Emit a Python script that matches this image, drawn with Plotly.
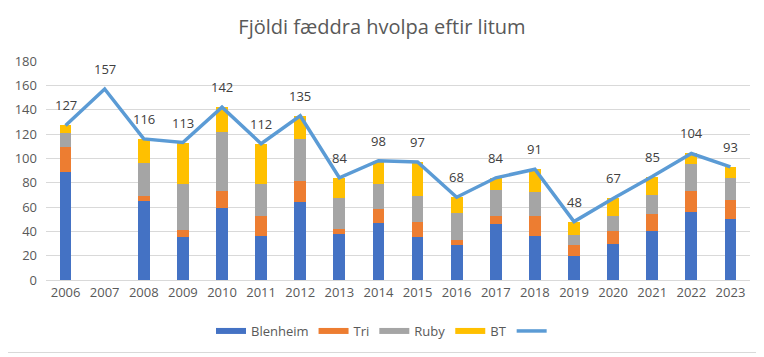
import plotly.graph_objects as go

years = ["2006", "2007", "2008", "2009", "2010", "2011", "2012", "2013", "2014",
         "2015", "2016", "2017", "2018", "2019", "2020", "2021", "2022", "2023"]
blenheim = [89, None, 65, 35, 59, 36, 64, 38, 47, 35, 29, 46, 36, 20, 30, 40, 56, 50]
tri = [20, None, 4, 6, 14, 17, 17, 4, 11, 13, 4, 7, 17, 9, 10, 14, 17, 16]
ruby = [12, None, 27, 38, 49, 26, 35, 25, 21, 21, 22, 21, 19, 8, 13, 16, 22, 18]
bt = [6, None, 20, 34, 20, 33, 19, 17, 19, 28, 13, 10, 19, 11, 14, 15, 9, 9]
total = [127, 157, 116, 113, 142, 112, 135, 84, 98, 97, 68, 84, 91, 48, 67, 85, 104, 93]

font = "Open Sans"
txt = "#595959"

# page has an 8px body margin; figure is sized to fit the remaining window
W, H = 756, 349
L, R, T, B = 38, 14, 53, 77
PW, PH = W - L - R, H - T - B

fig = go.Figure()
series = [("Blenheim", blenheim, "#4472C4"), ("Tri", tri, "#ED7D31"),
          ("Ruby", ruby, "#A5A5A5"), ("BT", bt, "#FFC000")]
for name, vals, col in series:
    fig.add_trace(go.Bar(x=years, y=vals, name=name, showlegend=False,
                         marker=dict(color=col, line=dict(width=0))))

fig.add_trace(go.Scatter(x=years, y=total, name="", mode="lines", showlegend=False,
                         line=dict(color="#5B9BD5", width=3.5)))

# legend entries drawn as wide strokes like the original
for name, vals, col in series:
    fig.add_trace(go.Scatter(x=[years[0]], y=[None], name=name, mode="lines",
                             line=dict(color=col, width=6)))
fig.add_trace(go.Scatter(x=[years[0]], y=[None], name="", mode="lines",
                         line=dict(color="#5B9BD5", width=3.5)))

for i, v in enumerate(total):
    fig.add_annotation(x=i, y=v, text=str(v), showarrow=False, yshift=20,
                       font=dict(family=font, size=13, color="#404040"))

fig.update_layout(
    barmode="stack", bargap=0.7,
    width=W, height=H,
    margin=dict(l=L, r=R, t=T, b=B, autoexpand=False),
    paper_bgcolor="white", plot_bgcolor="white",
    font=dict(family=font, size=13, color=txt),
    title=dict(text="Fjöldi fæddra hvolpa eftir litum", x=(382 - 8) / W, xanchor="center",
               y=1 - 19 / H, yanchor="middle",
               font=dict(family=font, size=20, color=txt)),
    legend=dict(orientation="h", x=(384 - 8 - L) / PW, xanchor="center",
                y=(272 - 323) / PH, yanchor="middle",
                font=dict(family=font, size=13, color=txt), traceorder="normal",
                itemwidth=30),
    showlegend=True,
)
fig.update_yaxes(range=[0, 180], dtick=20, gridcolor="#D9D9D9", gridwidth=1,
                 zeroline=False, showline=False, ticks="", ticklabelstandoff=8,
                 tickfont=dict(family=font, size=13, color=txt))
fig.update_xaxes(type="category", categoryorder="array", categoryarray=years,
                 range=[-0.5, len(years) - 0.5],
                 showline=True, linecolor="#D9D9D9", linewidth=1, ticks="",
                 tickfont=dict(family=font, size=13, color=txt))

# chart border (bottom and right edges visible in the window)
fig.add_shape(type="line", xref="paper", yref="paper",
              x0=-L / PW, x1=(W - 1 - L) / PW, y0=(272 - 344.5) / PH, y1=(272 - 344.5) / PH,
              line=dict(color="#D9D9D9", width=1))

fig.write_html("out.html")
